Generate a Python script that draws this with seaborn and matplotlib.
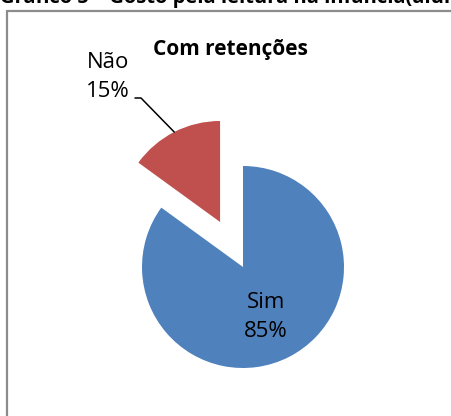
import numpy as np
import seaborn as sns
import matplotlib.pyplot as plt
from matplotlib.lines import Line2D

categories = ['Sim', 'Não']
values = [85, 15]
explode = [0, 0.5]
colors = ['#4F81BD', '#C0504D']
chart_title = 'Com retenções'
doc_caption = 'Gráfico 5 – Gosto pela leitura na infância(alunos com retenções)'

sns.set_theme(style='white')
plt.rcParams['font.family'] = ['Open Sans', 'DejaVu Sans']

W, H = 451, 416
fig = plt.figure(figsize=(W / 100, H / 100), dpi=100)
ax = fig.add_axes([0, 0, 1, 1])

wedges, _ = ax.pie(values, explode=explode, colors=colors, startangle=90,
                   counterclock=False, radius=1,
                   wedgeprops=dict(linewidth=0))

# pixel -> data mapping: pie centre at (243, 267) px, radius 101 px
cx, cy, r = 243, 267, 101
ax.set_xlim(-cx / r, (W - cx) / r)
ax.set_ylim(-(H - cy) / r, cy / r)
ax.set_aspect('auto')
ax.axis('off')

def px(x, y):
    return (x - cx) / r, (cy - y) / r

# Sim label inside its slice
w = wedges[0]
ang = np.deg2rad((w.theta1 + w.theta2) / 2)
ax.text(w.center[0] + 0.5 * np.cos(ang), w.center[1] + 0.5 * np.sin(ang) - 0.05,
        f'{categories[0]}\n{values[0]}%', ha='center', va='center',
        fontsize=16, linespacing=1.5, color='black')

# Não label outside with leader line
w = wedges[1]
ang = np.deg2rad((w.theta1 + w.theta2) / 2)
ex, ey = w.center[0] + np.cos(ang), w.center[1] + np.sin(ang)
tx, ty = px(108, 77)
ax.text(tx, ty, f'{categories[1]}\n{values[1]}%', ha='center', va='center',
        fontsize=16, linespacing=1.5, color='black')
x0, y0 = px(135, 98)
x1, _ = px(141, 98)
ax.plot([x0, x1, ex], [y0, y0, ey], color='black', lw=1.1)

tx, ty = px(230, 55)
ax.text(tx, ty, chart_title, ha='center', va='baseline', fontsize=15,
        fontweight='bold', color='black')

# chart frame (only left and top edges visible)
fig.add_artist(Line2D([7.5 / W, 7.5 / W], [0, 1 - 10.5 / H], color='#8c8c8c', lw=1.6))
fig.add_artist(Line2D([7.5 / W, 1], [1 - 10.5 / H, 1 - 10.5 / H], color='#8c8c8c', lw=1.6))

# cropped document caption at the very top
fig.text(0, 1 - 3 / H, doc_caption, ha='left', va='baseline', fontsize=14.5,
         fontweight='bold', color='black')

fig.savefig('out.png', dpi=100)
